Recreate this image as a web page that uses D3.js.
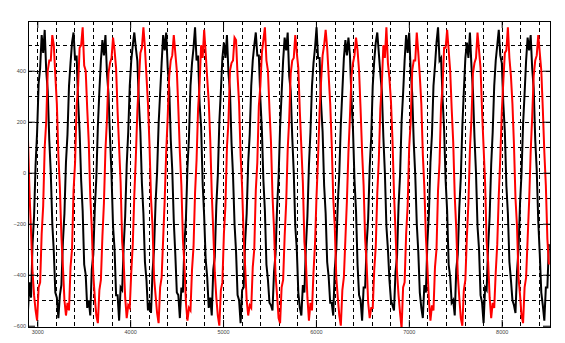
<!DOCTYPE html>
<html>
<head>
<meta charset="utf-8">
<script src="https://cdn.jsdelivr.net/npm/d3@7"></script>
<style>
  body { margin: 0; background: #fff; }
  svg { display: block; }
</style>
</head>
<body>
<div id="chart"></div>
<script>
// sampling of the two traces (one sample every tStep units of x)
const tStart = 2900;
const tStep = 16.35;

// black trace, 20 samples per cycle
const blackSignal = [
  -540,-430,-490,-280,-170,30,160,350,410,540,470,560,400,320,130,0,-200,-310,-470,-490,
  -570,-480,-440,-270,-160,40,150,340,430,510,550,440,460,280,160,-30,-150,-360,-400,-530,
  -500,-560,-380,-320,-140,-20,180,320,440,520,460,540,390,310,140,-10,-210,-300,-480,-480,
  -580,-450,-460,-290,-170,30,160,340,440,500,550,490,440,280,160,-40,-160,-350,-420,-540,
  -510,-550,-390,-300,-120,0,190,310,430,540,480,550,410,330,130,10,-190,-320,-470,-480,
  -570,-450,-470,-280,-180,20,140,340,430,490,570,440,460,270,180,-40,-170,-340,-410,-530,
  -490,-560,-380,-330,-130,-10,200,320,450,510,450,540,390,320,120,-10,-200,-310,-480,-500,
  -590,-460,-450,-270,-160,40,150,340,440,500,550,460,460,290,170,-30,-150,-360,-420,-510,
  -520,-540,-390,-320,-140,-20,180,310,440,530,480,550,380,320,140,0,-210,-300,-470,-530,
  -560,-440,-470,-290,-170,30,160,340,430,490,570,450,450,270,160,-50,-160,-350,-410,-510,
  -510,-560,-380,-300,-120,0,190,320,450,520,460,530,460,290,170,-30,-150,-360,-480,-500,
  -580,-450,-450,-280,-180,20,140,340,440,510,550,470,390,320,140,0,-210,-300,-420,-500,
  -520,-540,-390,-330,-130,-10,200,310,440,540,470,550,400,310,120,-10,-200,-310,-470,-530,
  -570,-440,-470,-270,-160,40,150,340,420,510,570,440,450,290,170,-30,-150,-360,-410,-510,
  -500,-560,-380,-320,-140,-20,180,320,450,510,450,550,420,320,140,0,-210,-300,-480,-510,
  -590,-450,-460,-290,-170,30,160,340,440,500,560,460,430,270,160,-50,-160,-350,-420,-500,
  -520,-550,-390,-300,-120,0,190,310,440,530,480,540,410,330,130,10,-190,-320,-470,-520,
  -580,-450,-450,-280
];

// red trace, lags the black one by about a quarter cycle
const redSignal = [
  130,-80,-230,-390,-480,-540,-580,-450,-430,-240,-130,100,200,400,440,440,540,500,380,270,
  70,-60,-250,-370,-500,-560,-510,-540,-370,-300,-70,40,260,340,490,500,570,420,400,250,
  120,-90,-220,-400,-490,-560,-590,-460,-420,-250,-120,90,210,390,430,450,530,480,410,240,
  100,-40,-270,-350,-490,-570,-520,-530,-390,-280,-90,60,240,360,470,490,570,490,380,270,
  110,-100,-210,-410,-480,-550,-590,-450,-410,-260,-110,80,220,380,440,460,540,470,400,250,
  80,-50,-260,-360,-510,-580,-530,-540,-380,-290,-80,50,250,350,500,450,560,470,370,280,
  130,-80,-230,-390,-490,-560,-600,-460,-430,-240,-130,100,200,400,430,440,530,520,380,270,
  70,-60,-250,-370,-500,-560,-520,-530,-370,-300,-70,40,260,340,470,520,570,440,400,250,
  120,-90,-220,-400,-480,-570,-590,-450,-420,-250,-120,90,210,390,440,450,540,470,410,240,
  100,-40,-270,-350,-490,-580,-510,-540,-390,-280,-90,60,240,360,460,500,560,490,380,270,
  110,-100,-210,-410,-490,-560,-600,-460,-410,-260,-110,80,220,380,430,460,530,480,400,250,
  80,-50,-260,-360,-510,-570,-530,-530,-380,-290,-80,50,250,350,500,450,570,430,370,280,
  130,-80,-230,-390,-480,-550,-610,-450,-430,-240,-130,100,200,400,440,440,550,470,380,270,
  70,-60,-250,-370,-500,-580,-520,-540,-370,-300,-70,40,260,340,490,490,560,480,400,250,
  120,-90,-220,-400,-490,-570,-600,-460,-420,-250,-120,90,210,390,430,450,550,480,410,240,
  100,-40,-270,-350,-490,-570,-510,-530,-390,-280,-90,60,240,360,470,480,570,450,380,270,
  110,-100,-210,-410,-480,-560,-590,-450,-410,-260,-110,80,220,380,440,460,540,470,400,250,
  80,-50,-260,-360
];

const xTicks = [3000, 4000, 5000, 6000, 7000, 8000];
const yTicks = [-600, -400, -200, 0, 200, 400];
const xGrid = [3000,3200,3400,3600,3800,4000,4200,4400,4600,4800,5000,5200,5400,5600,5800,
  6000,6200,6400,6600,6800,7000,7200,7400,7600,7800,8000,8200,8400];
const yGrid = [-500,-400,-300,-200,-100,0,100,200,300,400,500];

const width = 565;
const height = 343;
const margin = { left: 28, top: 21, right: 550, bottom: 327 };

const svg = d3.select("#chart").append("svg")
    .attr("width", width)
    .attr("height", height);

const x = d3.scaleLinear().domain([2900, 8520]).range([margin.left, margin.right]);
const y = d3.scaleLinear().domain([-605, 595]).range([margin.bottom, margin.top]);

svg.append("defs").append("clipPath")
    .attr("id", "plotClip")
  .append("rect")
    .attr("x", margin.left)
    .attr("y", margin.top)
    .attr("width", margin.right - margin.left)
    .attr("height", margin.bottom - margin.top);

// dashed grid
const grid = svg.append("g")
    .attr("stroke", "#000")
    .attr("stroke-width", 1)
    .attr("stroke-dasharray", "4,3");

grid.selectAll("line.gx")
    .data(xGrid)
    .enter().append("line")
    .attr("class", "gx")
    .attr("x1", d => Math.round(x(d)) + 0.5)
    .attr("x2", d => Math.round(x(d)) + 0.5)
    .attr("y1", margin.top)
    .attr("y2", margin.bottom);

grid.selectAll("line.gy")
    .data(yGrid)
    .enter().append("line")
    .attr("class", "gy")
    .attr("x1", margin.left)
    .attr("x2", margin.right)
    .attr("y1", d => Math.round(y(d)) + 0.5)
    .attr("y2", d => Math.round(y(d)) + 0.5);

// traces
const line = d3.line()
    .x((d, i) => x(tStart + i * tStep))
    .y(d => y(d));

const plot = svg.append("g").attr("clip-path", "url(#plotClip)");

plot.append("path")
    .datum(blackSignal)
    .attr("fill", "none")
    .attr("stroke", "#000")
    .attr("stroke-width", 2)
    .attr("d", line);

plot.append("path")
    .datum(redSignal)
    .attr("fill", "none")
    .attr("stroke", "#f00")
    .attr("stroke-width", 2)
    .attr("d", line);

// axes: ticks point inward, on all four sides
const tickLen = 7;
svg.append("g")
    .attr("transform", `translate(0,${margin.bottom})`)
    .call(d3.axisBottom(x).tickValues(xTicks).tickSize(-tickLen).tickPadding(3).tickFormat(d3.format("d")))
    .call(g => g.select(".domain").remove());

svg.append("g")
    .attr("transform", `translate(0,${margin.top})`)
    .call(d3.axisTop(x).tickValues(xTicks).tickSize(-tickLen).tickFormat(""))
    .call(g => g.select(".domain").remove());

svg.append("g")
    .attr("transform", `translate(${margin.left},0)`)
    .call(d3.axisLeft(y).tickValues(yTicks).tickSize(-tickLen).tickPadding(2).tickFormat(d3.format("d")))
    .call(g => g.select(".domain").remove());

svg.append("g")
    .attr("transform", `translate(${margin.right},0)`)
    .call(d3.axisRight(y).tickValues(yTicks).tickSize(-tickLen).tickFormat(""))
    .call(g => g.select(".domain").remove());

svg.selectAll(".tick text")
    .attr("font-family", "Liberation Sans, Arial, sans-serif")
    .attr("font-size", 5.5)
    .attr("fill", "#444");

svg.selectAll(".tick line")
    .attr("stroke", "#000");

// frame
svg.append("rect")
    .attr("x", margin.left + 0.5)
    .attr("y", margin.top + 0.5)
    .attr("width", margin.right - margin.left)
    .attr("height", margin.bottom - margin.top)
    .attr("fill", "none")
    .attr("stroke", "#000")
    .attr("stroke-width", 1);
</script>
</body>
</html>
